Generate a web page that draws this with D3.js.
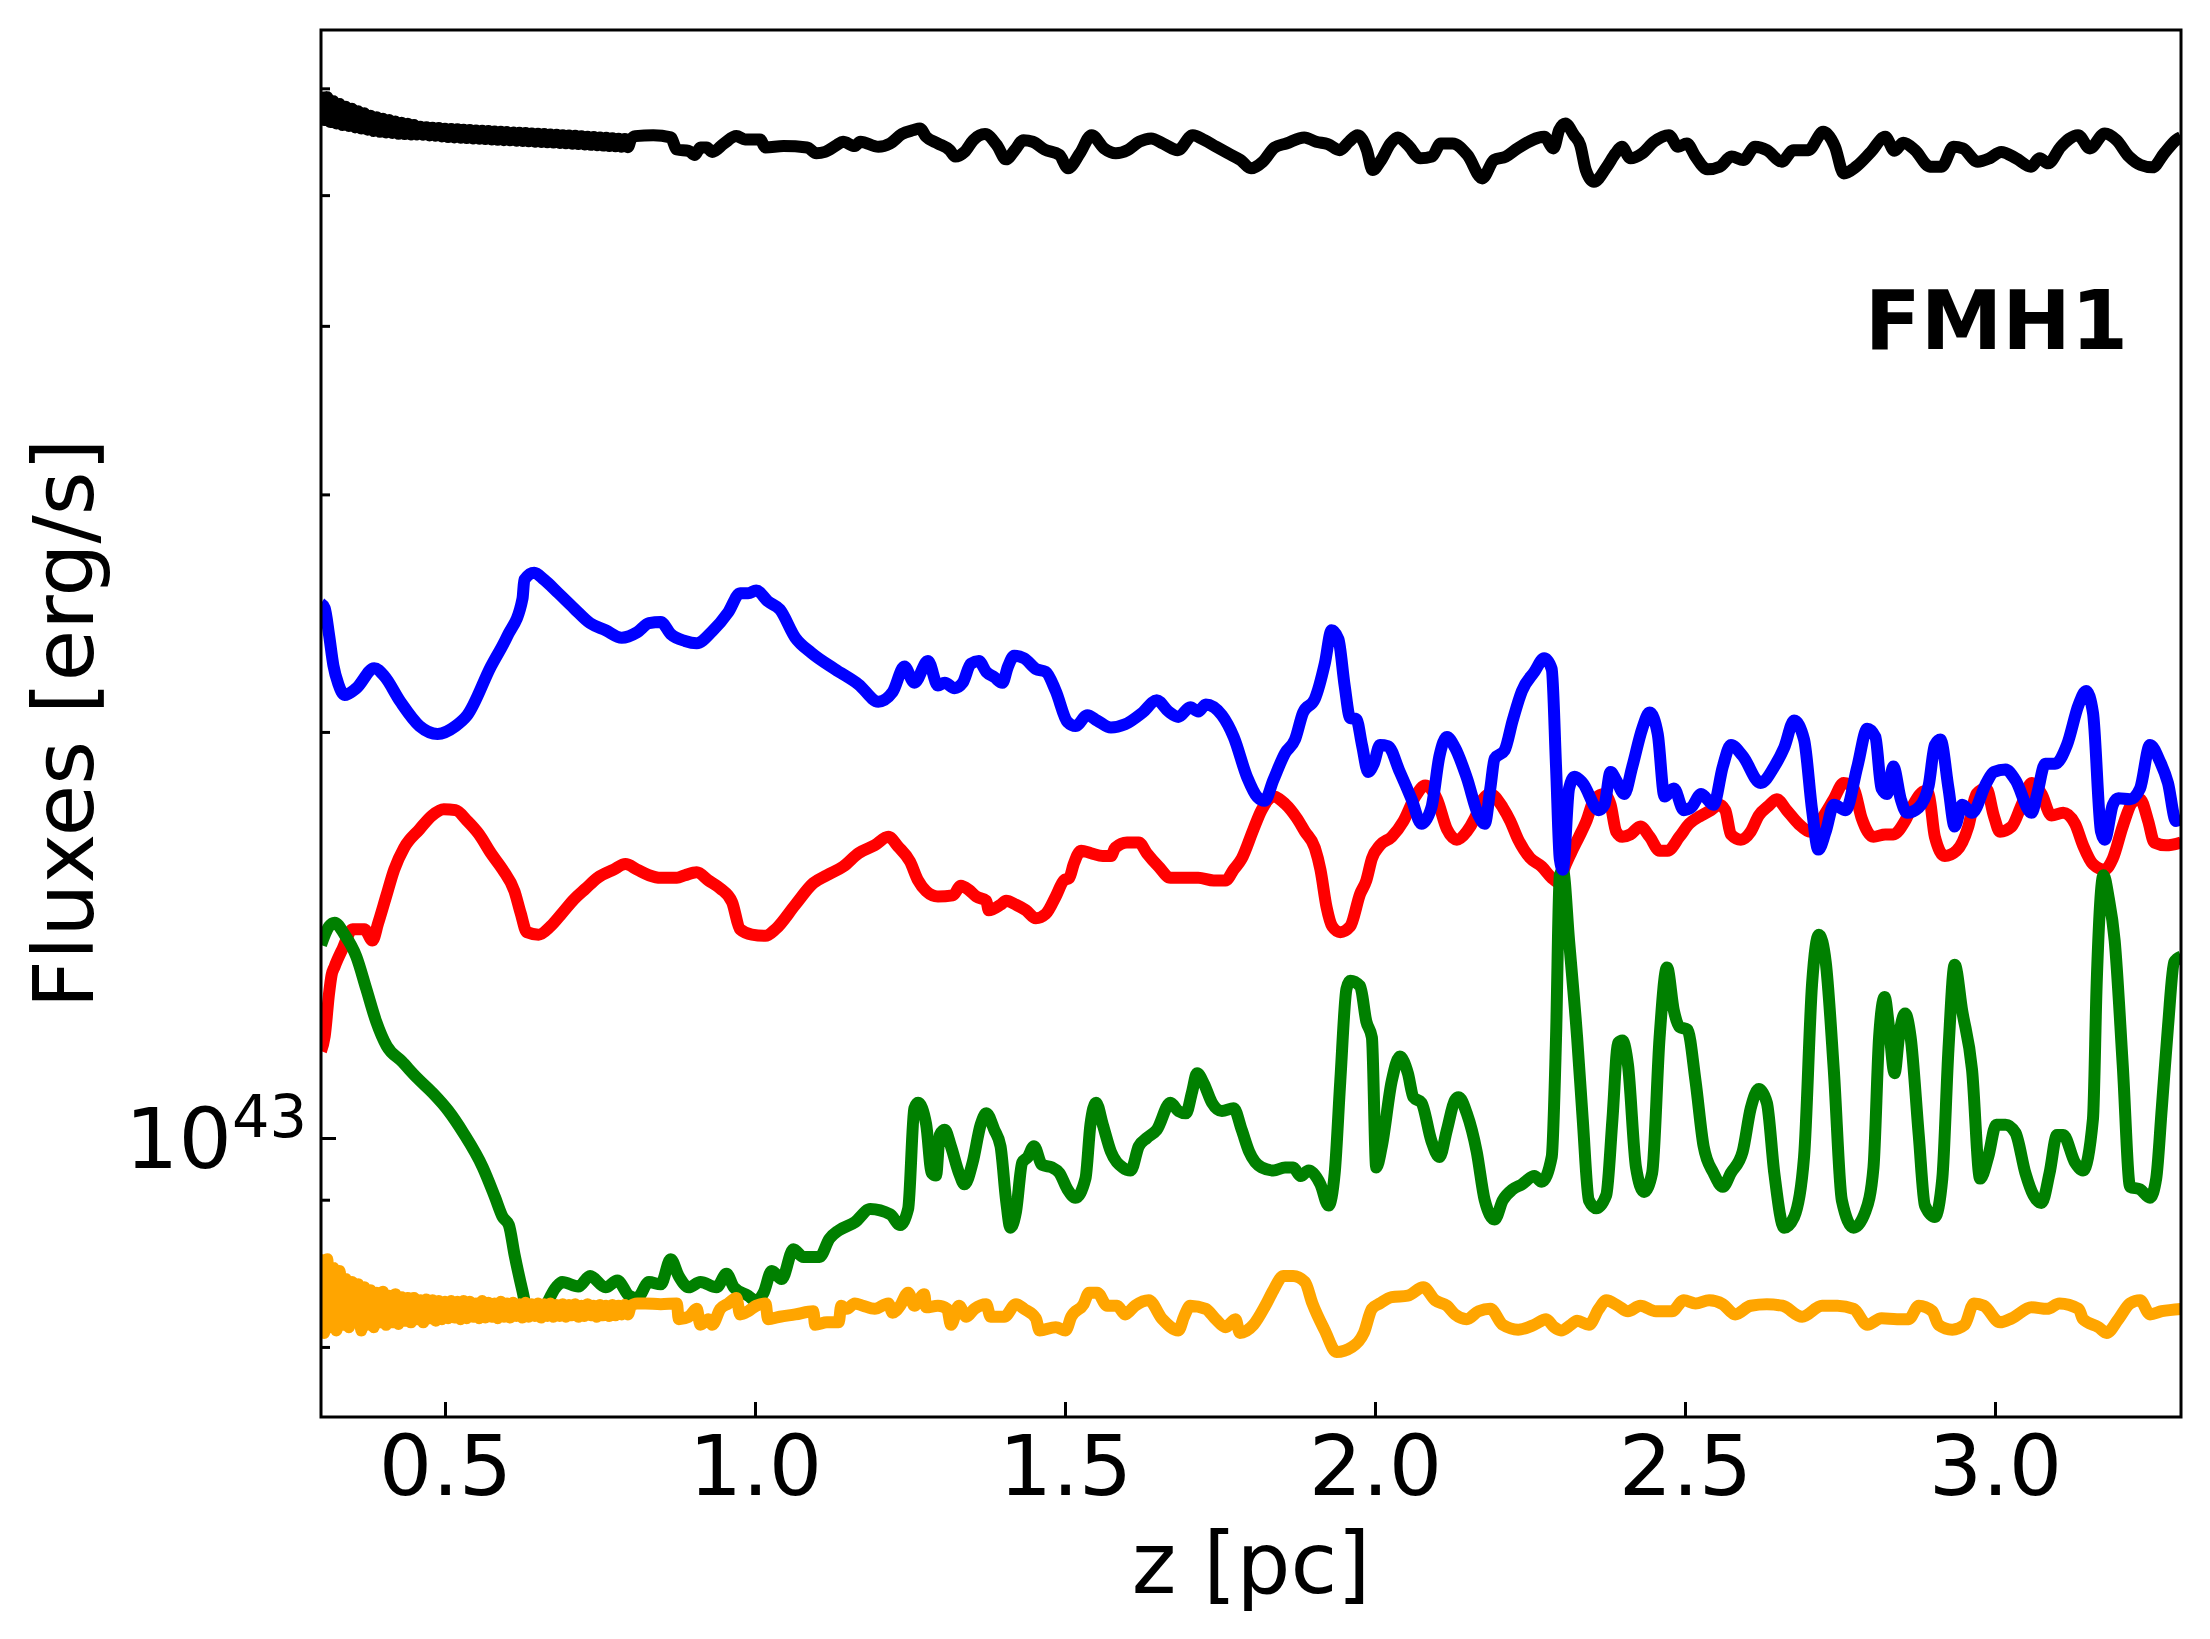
<!DOCTYPE html>
<html>
<head>
<meta charset="utf-8">
<script src="https://cdnjs.cloudflare.com/ajax/libs/d3/7.8.5/d3.min.js"></script>
<style>
  body { margin: 0; background: #fff; }
  text { font-family: "DejaVu Sans", sans-serif; }
</style>
</head>
<body>
<svg id="chart"></svg>
<script>
// flux values are in units of 1e43 erg/s, points are [z (pc), flux]
var UNIT = 1e43;
var xTicks = [0.5, 1.0, 1.5, 2.0, 2.5, 3.0];
var yMajor = [1];
var yMinor = [0.7, 0.8, 0.9, 2, 3, 4, 5, 6];
var panelLabel = 'FMH1';

var blackFlux = [
  [0.300,5.966],[0.305,5.683],[0.310,5.908],[0.315,5.665],[0.320,5.869],[0.325,5.651],[0.330,5.842],[0.335,5.635],
  [0.340,5.815],[0.345,5.626],[0.350,5.795],[0.355,5.613],[0.360,5.770],[0.365,5.603],[0.370,5.749],[0.375,5.591],
  [0.380,5.726],[0.385,5.578],[0.390,5.710],[0.395,5.571],[0.400,5.697],[0.405,5.565],[0.410,5.683],[0.415,5.559],
  [0.420,5.670],[0.425,5.552],[0.430,5.658],[0.435,5.549],[0.440,5.648],[0.445,5.546],[0.450,5.635],[0.455,5.546],
  [0.460,5.618],[0.465,5.543],[0.470,5.615],[0.475,5.536],[0.480,5.609],[0.485,5.533],[0.490,5.606],[0.495,5.527],
  [0.500,5.600],[0.505,5.521],[0.510,5.597],[0.515,5.518],[0.520,5.594],[0.525,5.514],[0.530,5.591],[0.535,5.511],
  [0.540,5.587],[0.545,5.508],[0.550,5.584],[0.555,5.505],[0.560,5.581],[0.565,5.502],[0.570,5.578],[0.575,5.499],
  [0.580,5.574],[0.585,5.495],[0.590,5.571],[0.595,5.492],[0.600,5.568],[0.605,5.491],[0.610,5.565],[0.615,5.487],
  [0.620,5.562],[0.625,5.484],[0.630,5.559],[0.635,5.481],[0.640,5.555],[0.645,5.478],[0.650,5.552],[0.655,5.475],
  [0.660,5.549],[0.665,5.472],[0.670,5.546],[0.675,5.469],[0.680,5.543],[0.685,5.466],[0.690,5.539],[0.695,5.463],
  [0.700,5.536],[0.705,5.459],[0.710,5.533],[0.715,5.455],[0.720,5.529],[0.725,5.452],[0.730,5.525],[0.735,5.448],
  [0.740,5.521],[0.745,5.445],[0.750,5.518],[0.755,5.441],[0.760,5.514],[0.765,5.437],[0.770,5.510],[0.775,5.434],
  [0.780,5.506],[0.785,5.430],[0.790,5.502],[0.795,5.426],[0.800,5.499],
  [0.807,5.530],[0.836,5.539],[0.864,5.518],[0.874,5.405],[0.893,5.393],[0.903,5.355],[0.912,5.424],[0.922,5.424],
  [0.931,5.383],[0.950,5.461],[0.970,5.530],[0.984,5.499],[1.008,5.499],[1.017,5.424],[1.046,5.437],[1.084,5.424],
  [1.099,5.370],[1.113,5.383],[1.132,5.446],[1.142,5.477],[1.161,5.437],[1.170,5.477],[1.199,5.430],[1.218,5.461],
  [1.237,5.549],[1.256,5.587],[1.266,5.603],[1.276,5.524],[1.295,5.461],[1.314,5.399],[1.323,5.340],[1.338,5.383],
  [1.352,5.492],[1.371,5.549],[1.390,5.446],[1.405,5.315],[1.419,5.399],[1.433,5.492],[1.448,5.477],[1.467,5.405],
  [1.491,5.355],[1.505,5.234],[1.524,5.370],[1.543,5.539],[1.563,5.415],[1.582,5.370],[1.601,5.399],[1.620,5.477],
  [1.639,5.508],[1.658,5.461],[1.682,5.399],[1.706,5.539],[1.725,5.492],[1.744,5.430],[1.763,5.370],[1.783,5.309],
  [1.800,5.234],[1.819,5.294],[1.838,5.424],[1.857,5.461],[1.886,5.518],[1.905,5.477],[1.924,5.455],[1.943,5.399],
  [1.958,5.477],[1.972,5.539],[1.987,5.399],[1.996,5.219],[2.010,5.309],[2.025,5.461],[2.037,5.518],[2.053,5.446],
  [2.073,5.324],[2.092,5.340],[2.106,5.461],[2.125,5.461],[2.149,5.355],[2.173,5.145],[2.192,5.309],[2.211,5.340],
  [2.230,5.415],[2.273,5.524],[2.288,5.415],[2.297,5.587],[2.307,5.651],[2.321,5.539],[2.331,5.446],[2.340,5.219],
  [2.353,5.115],[2.374,5.249],[2.388,5.370],[2.398,5.430],[2.412,5.324],[2.431,5.370],[2.450,5.477],[2.474,5.539],
  [2.489,5.430],[2.503,5.461],[2.517,5.340],[2.536,5.225],[2.556,5.249],[2.575,5.340],[2.594,5.309],[2.613,5.430],
  [2.632,5.399],[2.656,5.294],[2.675,5.399],[2.699,5.399],[2.723,5.571],[2.742,5.430],[2.756,5.189],[2.776,5.249],
  [2.800,5.383],[2.823,5.524],[2.838,5.393],[2.852,5.467],[2.871,5.399],[2.895,5.249],[2.914,5.249],[2.933,5.430],
  [2.948,5.415],[2.972,5.294],[2.991,5.324],[3.010,5.383],[3.034,5.324],[3.058,5.249],[3.072,5.324],[3.086,5.279],
  [3.106,5.430],[3.134,5.539],[3.153,5.415],[3.177,5.555],[3.196,5.492],[3.216,5.340],[3.235,5.264],[3.254,5.243],
  [3.273,5.370],[3.292,5.492],[3.300,5.520]
];

var blueFlux = [
  [0.300,2.49],[0.306,2.47],[0.313,2.36],[0.320,2.24],[0.328,2.17],[0.338,2.13],[0.357,2.155],[0.386,2.23],
  [0.402,2.20],[0.428,2.106],[0.459,2.02],[0.488,1.993],[0.517,2.02],[0.536,2.058],[0.574,2.236],[0.600,2.353],
  [0.625,2.511],[0.628,2.593],[0.644,2.624],[0.660,2.593],[0.683,2.534],[0.708,2.470],[0.734,2.408],[0.759,2.379],
  [0.785,2.349],[0.810,2.371],[0.829,2.408],[0.848,2.413],[0.864,2.364],[0.887,2.336],[0.906,2.327],[0.931,2.375],
  [0.957,2.454],[0.976,2.534],[0.989,2.534],[1.002,2.546],[1.021,2.499],[1.040,2.465],[1.065,2.349],[1.091,2.289],
  [1.129,2.226],[1.167,2.169],[1.199,2.106],[1.222,2.141],[1.241,2.236],[1.257,2.175],[1.279,2.257],[1.295,2.165],
  [1.306,2.175],[1.322,2.155],[1.335,2.175],[1.348,2.247],[1.361,2.257],[1.373,2.216],[1.386,2.196],[1.399,2.175],
  [1.408,2.236],[1.418,2.278],[1.434,2.268],[1.453,2.227],[1.469,2.216],[1.485,2.145],[1.504,2.034],[1.517,2.020],
  [1.536,2.058],[1.552,2.039],[1.574,2.015],[1.597,2.026],[1.625,2.067],[1.648,2.111],[1.667,2.071],[1.683,2.052],
  [1.702,2.086],[1.715,2.071],[1.727,2.096],[1.753,2.058],[1.772,1.983],[1.794,1.850],[1.810,1.790],[1.822,1.778],
  [1.836,1.842],[1.855,1.929],[1.871,1.974],[1.884,2.067],[1.903,2.116],[1.919,2.247],[1.930,2.379],[1.941,2.343],
  [1.951,2.165],[1.960,2.048],[1.970,2.044],[1.979,1.956],[1.989,1.868],[1.998,1.894],[2.008,1.956],[2.021,1.952],
  [2.040,1.868],[2.059,1.783],[2.075,1.710],[2.091,1.758],[2.104,1.920],[2.116,1.983],[2.129,1.947],[2.148,1.850],
  [2.167,1.734],[2.177,1.710],[2.186,1.816],[2.193,1.911],[2.209,1.938],[2.222,2.039],[2.237,2.145],[2.257,2.216],
  [2.273,2.268],[2.285,2.227],[2.292,1.885],[2.298,1.611],
  [2.303,1.581],[2.313,1.816],[2.322,1.853],[2.335,1.833],[2.361,1.750],[2.370,1.766],[2.380,1.868],[2.389,1.842],
  [2.402,1.799],[2.415,1.885],[2.431,2.011],[2.443,2.067],[2.456,1.993],[2.467,1.791],[2.482,1.816],[2.498,1.750],
  [2.510,1.758],[2.526,1.799],[2.546,1.766],[2.561,1.885],[2.574,1.956],[2.593,1.920],[2.622,1.833],[2.644,1.885],
  [2.660,1.947],[2.676,2.039],[2.692,1.974],[2.705,1.750],[2.715,1.636],[2.727,1.687],[2.740,1.766],[2.759,1.750],
  [2.778,1.885],[2.794,2.011],[2.807,1.983],[2.817,1.816],[2.826,1.799],[2.836,1.885],[2.848,1.783],[2.858,1.742],
  [2.877,1.758],[2.893,1.825],[2.903,1.956],[2.912,1.974],[2.925,1.816],[2.935,1.702],[2.947,1.766],[2.963,1.742],
  [2.986,1.833],[2.998,1.868],[3.017,1.876],[3.033,1.842],[3.059,1.742],[3.068,1.799],[3.081,1.894],[3.097,1.894],
  [3.116,1.956],[3.135,2.096],[3.147,2.145],[3.158,2.067],[3.171,1.687],[3.177,1.664],[3.190,1.766],[3.199,1.786],
  [3.218,1.783],[3.234,1.816],[3.250,1.956],[3.266,1.902],[3.279,1.833],[3.292,1.718],[3.300,1.726]
];

var redFlux = [
  [0.300,1.16],[0.306,1.19],[0.313,1.28],[0.317,1.32],[0.322,1.34],[0.335,1.382],[0.351,1.428],[0.370,1.428],
  [0.383,1.401],[0.392,1.442],[0.405,1.510],[0.418,1.581],[0.434,1.641],[0.459,1.694],[0.479,1.734],[0.498,1.753],
  [0.517,1.750],[0.536,1.718],[0.555,1.679],[0.574,1.626],[0.593,1.581],[0.612,1.524],[0.622,1.468],[0.632,1.421],
  [0.651,1.415],[0.670,1.435],[0.689,1.468],[0.708,1.503],[0.727,1.531],[0.746,1.559],[0.772,1.581],[0.791,1.596],
  [0.810,1.581],[0.829,1.566],[0.848,1.559],[0.874,1.559],[0.887,1.566],[0.906,1.574],[0.925,1.552],[0.944,1.531],
  [0.963,1.496],[0.976,1.428],[0.995,1.415],[1.017,1.412],[1.033,1.428],[1.065,1.489],[1.094,1.545],[1.116,1.566],
  [1.142,1.589],[1.167,1.626],[1.193,1.648],[1.215,1.672],[1.231,1.644],[1.250,1.603],[1.263,1.552],[1.276,1.524],
  [1.295,1.510],
  [1.319,1.513],[1.332,1.538],[1.345,1.527],[1.357,1.510],[1.373,1.499],[1.377,1.475],[1.396,1.489],[1.405,1.499],
  [1.421,1.489],[1.437,1.475],[1.453,1.455],[1.469,1.466],[1.485,1.510],[1.498,1.552],[1.507,1.559],[1.514,1.596],
  [1.526,1.633],[1.542,1.626],[1.561,1.618],[1.574,1.618],[1.581,1.641],[1.600,1.656],[1.619,1.656],[1.632,1.626],
  [1.651,1.589],[1.670,1.559],[1.683,1.559],[1.699,1.559],[1.715,1.559],[1.740,1.552],[1.759,1.552],[1.772,1.581],
  [1.785,1.611],[1.804,1.694],[1.817,1.750],[1.836,1.791],[1.855,1.769],[1.874,1.726],[1.887,1.687],[1.903,1.641],
  [1.912,1.581],[1.922,1.482],[1.931,1.435],[1.944,1.421],[1.960,1.435],[1.976,1.517],[1.986,1.552],[1.995,1.611],
  [2.008,1.648],[2.027,1.672],[2.046,1.718],[2.065,1.791],[2.081,1.825],[2.100,1.783],[2.116,1.694],[2.132,1.664],
  [2.148,1.687],[2.161,1.726],[2.174,1.783],[2.186,1.799],[2.206,1.758],[2.218,1.718],[2.231,1.664],[2.250,1.613],
  [2.269,1.589],[2.285,1.559],[2.298,1.545],
  [2.303,1.574],[2.316,1.626],[2.329,1.672],[2.341,1.718],[2.354,1.783],[2.370,1.799],[2.380,1.766],[2.389,1.687],
  [2.399,1.672],[2.412,1.679],[2.428,1.702],[2.443,1.672],[2.459,1.633],[2.472,1.633],[2.491,1.672],[2.507,1.710],
  [2.526,1.734],[2.542,1.750],[2.555,1.766],[2.565,1.750],[2.574,1.679],[2.590,1.664],[2.606,1.687],[2.619,1.734],
  [2.635,1.763],[2.648,1.783],[2.664,1.750],[2.683,1.710],[2.702,1.687],[2.721,1.726],[2.740,1.783],[2.756,1.833],
  [2.772,1.816],[2.785,1.726],[2.804,1.672],[2.823,1.679],[2.836,1.679],[2.855,1.718],[2.868,1.766],[2.887,1.808],
  [2.893,1.799],[2.903,1.672],[2.919,1.618],[2.938,1.633],[2.957,1.702],[2.970,1.799],[2.986,1.816],[2.998,1.734],
  [3.008,1.687],[3.027,1.702],[3.043,1.766],[3.059,1.833],[3.075,1.799],[3.091,1.734],[3.110,1.742],[3.129,1.710],
  [3.142,1.648],[3.158,1.596],[3.177,1.581],[3.190,1.611],[3.206,1.702],[3.222,1.774],[3.234,1.783],[3.247,1.718],
  [3.257,1.656],[3.276,1.648],[3.300,1.656]
];

var greenFlux = [
  [0.300,1.39],[0.313,1.435],[0.322,1.444],[0.338,1.415],[0.357,1.363],[0.373,1.290],[0.389,1.220],[0.406,1.170],
  [0.430,1.140],[0.455,1.108],[0.480,1.080],[0.505,1.048],[0.530,1.008],[0.561,0.951],[0.581,0.903],[0.593,0.874],
  [0.603,0.862],[0.612,0.820],[0.625,0.770],[0.632,0.747],[0.651,0.740],[0.679,0.775],[0.689,0.782],[0.715,0.776],
  [0.734,0.790],[0.759,0.775],[0.778,0.784],[0.797,0.764],[0.810,0.761],[0.829,0.782],[0.848,0.779],[0.864,0.813],
  [0.877,0.790],[0.893,0.775],[0.912,0.782],[0.938,0.775],[0.954,0.793],[0.966,0.775],[0.989,0.764],[1.002,0.757],
  [1.014,0.768],[1.027,0.797],[1.043,0.786],[1.062,0.827],[1.078,0.816],[1.104,0.816],[1.120,0.842],[1.135,0.854],
  [1.161,0.866],[1.186,0.886],[1.218,0.878],[1.234,0.862],[1.247,0.886],[1.257,1.052],[1.263,1.062],[1.276,1.024],
  [1.285,0.942],[1.292,0.938],[1.298,1.005],
  [1.306,1.014],[1.316,0.986],[1.329,0.942],[1.338,0.924],[1.351,0.959],[1.364,1.023],[1.373,1.043],[1.386,1.014],
  [1.396,0.986],[1.405,0.899],[1.412,0.858],[1.421,0.882],[1.431,0.959],[1.440,0.968],[1.450,0.986],[1.463,0.955],
  [1.479,0.951],[1.491,0.942],[1.504,0.916],[1.517,0.903],[1.533,0.933],[1.541,1.023],[1.550,1.062],[1.561,1.023],
  [1.574,0.977],[1.593,0.951],[1.606,0.946],[1.619,0.986],[1.632,1.000],[1.648,1.014],[1.670,1.062],[1.683,1.047],
  [1.695,1.043],[1.705,1.082],[1.713,1.117],[1.724,1.097],[1.737,1.062],[1.753,1.047],[1.772,1.052],[1.785,1.014],
  [1.797,0.977],[1.817,0.951],[1.836,0.946],[1.855,0.951],[1.868,0.951],[1.880,0.937],[1.893,0.946],[1.912,0.924],
  [1.925,0.891],[1.935,0.942],[1.944,1.102],[1.954,1.290],[1.960,1.308],[1.976,1.296],[1.986,1.220],[1.995,1.187],
  [2.002,0.951],[2.011,0.986],[2.027,1.102],[2.040,1.149],[2.053,1.117],[2.062,1.072],[2.075,1.062],[2.091,0.995],
  [2.104,0.968],[2.116,1.014],[2.129,1.067],[2.135,1.072],[2.148,1.043],[2.164,0.977],[2.177,0.899],[2.193,0.870],
  [2.206,0.899],[2.222,0.916],[2.237,0.924],[2.257,0.937],[2.269,0.928],[2.285,0.968],[2.292,1.187],[2.298,1.566],
  [2.303,1.581],[2.313,1.401],[2.326,1.187],[2.335,1.033],[2.345,0.899],[2.357,0.887],[2.373,0.907],[2.383,1.033],
  [2.392,1.176],[2.399,1.181],[2.408,1.133],[2.421,0.951],[2.434,0.912],[2.447,0.942],[2.459,1.187],[2.471,1.338],
  [2.482,1.243],[2.491,1.209],[2.504,1.203],[2.517,1.102],[2.530,0.986],[2.546,0.942],[2.561,0.920],[2.574,0.942],
  [2.593,0.977],[2.606,1.052],[2.619,1.087],[2.632,1.062],[2.644,0.942],[2.660,0.858],[2.676,0.874],[2.692,0.968],
  [2.705,1.302],[2.716,1.415],[2.727,1.350],[2.740,1.123],[2.753,0.899],[2.772,0.858],[2.791,0.882],[2.804,0.951],
  [2.813,1.187],[2.822,1.272],[2.829,1.209],[2.838,1.117],[2.845,1.187],[2.855,1.237],[2.864,1.187],[2.877,1.005],
  [2.887,0.891],[2.903,0.874],[2.915,0.933],[2.925,1.165],[2.935,1.344],[2.947,1.243],[2.963,1.123],[2.976,0.933],
  [2.989,0.968],[3.002,1.023],[3.017,1.023],[3.033,1.009],[3.049,0.942],[3.062,0.907],[3.075,0.895],[3.088,0.942],
  [3.100,1.005],[3.110,1.005],[3.129,0.959],[3.142,0.946],[3.158,1.033],[3.164,1.302],[3.175,1.566],[3.183,1.510],
  [3.193,1.401],[3.206,1.133],[3.218,0.920],[3.234,0.916],[3.250,0.903],[3.260,0.933],[3.269,1.052],[3.279,1.209],
  [3.289,1.350],[3.300,1.363]
];

var orangeFlux = [
  [0.300,0.820],[0.305,0.717],[0.310,0.813],[0.315,0.724],[0.320,0.801],[0.325,0.720],[0.330,0.797],[0.335,0.727],
  [0.340,0.786],[0.345,0.724],[0.350,0.782],[0.355,0.730],[0.360,0.779],[0.365,0.720],[0.370,0.775],[0.375,0.727],
  [0.380,0.771],[0.385,0.724],[0.390,0.768],[0.395,0.730],[0.400,0.769],[0.405,0.727],[0.410,0.764],[0.415,0.730],
  [0.420,0.766],[0.425,0.728],[0.430,0.762],[0.435,0.732],[0.440,0.761],[0.445,0.730],[0.450,0.761],[0.455,0.734],
  [0.460,0.758],[0.465,0.730],[0.470,0.759],[0.475,0.735],[0.480,0.758],[0.485,0.732],[0.490,0.757],[0.495,0.734],
  [0.500,0.756],[0.505,0.735],[0.510,0.757],[0.515,0.736],[0.520,0.756],[0.525,0.734],[0.530,0.757],[0.535,0.735],
  [0.540,0.756],[0.545,0.737],[0.550,0.754],[0.555,0.735],[0.560,0.757],[0.565,0.736],[0.570,0.755],[0.575,0.737],
  [0.580,0.754],[0.585,0.735],[0.590,0.756],[0.595,0.737],[0.600,0.754],[0.605,0.736],[0.610,0.755],[0.615,0.738],
  [0.620,0.753],[0.625,0.736],[0.630,0.755],[0.635,0.737],[0.640,0.753],[0.645,0.738],[0.650,0.754],[0.655,0.736],
  [0.660,0.753],[0.665,0.738],[0.670,0.754],[0.675,0.737],[0.680,0.752],[0.685,0.738],[0.690,0.753],[0.695,0.737],
  [0.700,0.752],[0.705,0.739],[0.710,0.753],[0.715,0.737],[0.720,0.751],[0.725,0.738],[0.730,0.753],[0.735,0.739],
  [0.740,0.751],[0.745,0.737],[0.750,0.752],[0.755,0.739],[0.760,0.751],[0.765,0.738],[0.770,0.752],[0.775,0.739],
  [0.780,0.751],[0.785,0.740],[0.790,0.752],[0.795,0.740],[0.800,0.751],
  [0.810,0.754],[0.823,0.754],[0.848,0.753],[0.874,0.754],[0.877,0.734],[0.893,0.737],[0.906,0.747],[0.912,0.727],
  [0.925,0.734],[0.931,0.727],[0.944,0.747],[0.957,0.754],[0.970,0.761],[0.976,0.740],[0.989,0.744],[1.002,0.751],
  [1.017,0.754],[1.021,0.734],[1.040,0.737],[1.065,0.740],[1.094,0.744],[1.097,0.727],[1.116,0.730],[1.135,0.730],
  [1.139,0.751],[1.148,0.747],[1.161,0.754],[1.174,0.751],[1.193,0.747],[1.215,0.754],[1.222,0.742],[1.234,0.751],
  [1.247,0.768],[1.257,0.751],[1.273,0.766],[1.276,0.749],[1.295,0.751],
  [1.310,0.747],[1.316,0.727],[1.329,0.751],[1.341,0.737],[1.354,0.747],[1.373,0.753],[1.380,0.737],[1.402,0.737],
  [1.421,0.753],[1.434,0.747],[1.453,0.735],[1.459,0.720],[1.485,0.724],[1.501,0.720],[1.510,0.737],[1.530,0.753],
  [1.539,0.768],[1.552,0.768],[1.568,0.751],[1.584,0.751],[1.597,0.740],[1.613,0.751],[1.635,0.758],[1.657,0.734],
  [1.683,0.720],[1.692,0.737],[1.702,0.751],[1.727,0.747],[1.743,0.734],[1.759,0.724],[1.775,0.734],[1.782,0.717],
  [1.804,0.727],[1.823,0.751],[1.836,0.771],[1.852,0.790],[1.868,0.790],[1.887,0.782],[1.899,0.754],[1.919,0.720],
  [1.938,0.694],[1.963,0.700],[1.982,0.717],[1.995,0.747],[2.008,0.754],[2.027,0.762],[2.053,0.764],[2.078,0.775],
  [2.097,0.758],[2.116,0.751],[2.129,0.740],[2.148,0.734],[2.167,0.744],[2.186,0.747],[2.206,0.727],[2.231,0.721],
  [2.257,0.727],[2.276,0.734],[2.289,0.724],
  [2.300,0.720],[2.316,0.727],[2.326,0.732],[2.345,0.727],[2.361,0.747],[2.373,0.758],[2.392,0.751],[2.408,0.744],
  [2.428,0.751],[2.453,0.744],[2.479,0.744],[2.498,0.758],[2.517,0.754],[2.539,0.758],[2.561,0.753],[2.581,0.740],
  [2.606,0.751],[2.632,0.753],[2.657,0.751],[2.689,0.737],[2.721,0.751],[2.746,0.751],[2.772,0.747],[2.794,0.727],
  [2.817,0.735],[2.842,0.734],[2.861,0.734],[2.877,0.751],[2.899,0.744],[2.909,0.727],[2.931,0.721],[2.951,0.727],
  [2.966,0.754],[2.982,0.751],[3.008,0.730],[3.027,0.735],[3.059,0.749],[3.084,0.747],[3.104,0.754],[3.135,0.747],
  [3.142,0.734],[3.167,0.724],[3.180,0.717],[3.199,0.734],[3.218,0.754],[3.234,0.758],[3.250,0.740],[3.269,0.744],
  [3.300,0.747]
];

var series = [
  { data: redFlux,    color: '#ff0000' },
  { data: greenFlux,  color: '#008000' },
  { data: orangeFlux, color: '#ffa500' },
  { data: blueFlux,   color: '#0000ff' },
  { data: blackFlux,  color: '#000000' }
];

var width = 2210, height = 1639;
var plot = { left: 321, right: 2181, top: 30, bottom: 1417 };

var svg = d3.select('#chart').attr('width', width).attr('height', height);

var x = d3.scaleLinear().domain([0.3, 3.3]).range([plot.left, plot.right]);
var y = d3.scaleLog().domain([0.6211 * UNIT, 6.628 * UNIT]).range([plot.bottom, plot.top]);

svg.append('clipPath').attr('id', 'clip')
  .append('rect')
  .attr('x', plot.left).attr('y', plot.top)
  .attr('width', plot.right - plot.left).attr('height', plot.bottom - plot.top);

// bottom axis, ticks pointing inward
var xAxis = svg.append('g')
  .attr('transform', 'translate(0,' + plot.bottom + ')')
  .call(d3.axisBottom(x).tickValues(xTicks).tickSize(-15).tickPadding(18).tickFormat(d3.format('.1f')));
xAxis.select('.domain').remove();
xAxis.selectAll('line').attr('stroke-width', 3);
xAxis.selectAll('text').attr('font-size', 84).attr('fill', '#000');

// left axis: minor ticks then the single major tick
var yMinorAxis = svg.append('g')
  .attr('transform', 'translate(' + plot.left + ',0)')
  .call(d3.axisLeft(y).tickValues(yMinor.map(function (d) { return d * UNIT; })).tickSize(-9).tickFormat(''));
yMinorAxis.select('.domain').remove();
yMinorAxis.selectAll('line').attr('stroke-width', 3);

var yAxis = svg.append('g')
  .attr('transform', 'translate(' + plot.left + ',0)')
  .call(d3.axisLeft(y).tickValues(yMajor.map(function (d) { return d * UNIT; })).tickSize(-15).tickPadding(14));
yAxis.select('.domain').remove();
yAxis.selectAll('line').attr('stroke-width', 3);
yAxis.selectAll('.tick text').each(function (d) {
  var t = d3.select(this).text(null).attr('dy', null).attr('y', 30).attr('fill', '#000');
  var exp = Math.round(Math.log10(d));
  t.append('tspan').attr('font-size', 84).text('10');
  t.append('tspan').attr('font-size', 59).attr('dy', -31).text(exp);
});

// curves
var line = d3.line()
  .x(function (d) { return x(d[0]); })
  .y(function (d) { return y(d[1] * UNIT); })
  .curve(d3.curveMonotoneX);

svg.append('g').attr('clip-path', 'url(#clip)')
  .selectAll('path')
  .data(series)
  .enter()
  .append('path')
  .attr('d', function (s) { return line(s.data); })
  .attr('fill', 'none')
  .attr('stroke', function (s) { return s.color; })
  .attr('stroke-width', 12)
  .attr('stroke-linejoin', 'round');

// frame
svg.append('rect')
  .attr('x', plot.left).attr('y', plot.top)
  .attr('width', plot.right - plot.left).attr('height', plot.bottom - plot.top)
  .attr('fill', 'none').attr('stroke', '#000').attr('stroke-width', 3);

// labels
svg.append('text')
  .attr('x', (plot.left + plot.right) / 2).attr('y', 1593)
  .attr('text-anchor', 'middle').attr('font-size', 85)
  .text('z [pc]');

svg.append('text')
  .attr('transform', 'translate(93,' + (plot.top + plot.bottom) / 2 + ') rotate(-90)')
  .attr('text-anchor', 'middle').attr('font-size', 84)
  .text('Fluxes [erg/s]');

svg.append('text')
  .attr('x', 2128).attr('y', 349)
  .attr('text-anchor', 'end').attr('font-size', 82).attr('font-weight', 'bold')
  .text(panelLabel);
</script>
</body>
</html>
